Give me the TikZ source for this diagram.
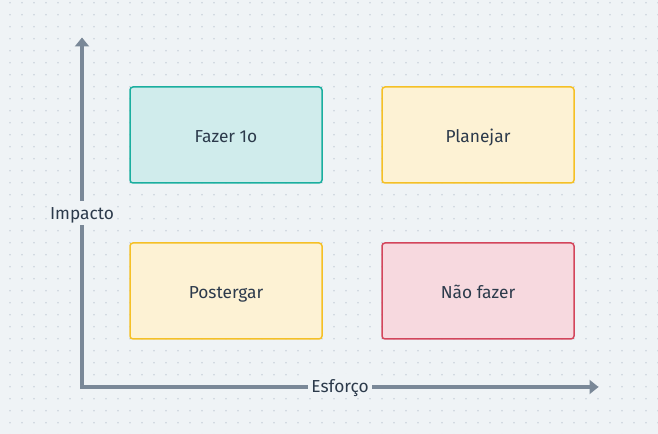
\documentclass[tikz,border=0pt]{standalone}
\usepackage{fontspec}
\setmainfont{Fira Sans}
\usetikzlibrary{arrows.meta}
\definecolor{bgcol}{HTML}{EFF3F6}
\definecolor{dotcol}{HTML}{CAD2DB}
\definecolor{axiscol}{HTML}{7A8898}
\definecolor{txtcol}{HTML}{2C3A4B}
\definecolor{tealline}{HTML}{1AAE9F}
\definecolor{tealfill}{HTML}{D0ECEC}
\definecolor{yelline}{HTML}{F5C026}
\definecolor{yelfill}{HTML}{FDF2D4}
\definecolor{redline}{HTML}{D3455B}
\definecolor{redfill}{HTML}{F7D9DF}
\tikzset{
  quad/.style={draw, rectangle, rounded corners=2.25pt, line width=1.125pt,
    minimum width=144pt, minimum height=72pt, text=txtcol,
    text height=11pt, text depth=0pt, font=\fontsize{13}{15}\selectfont},
  axis/.style={draw=axiscol, line width=3pt, line join=miter},
  axlabel/.style={fill=bgcol, text=txtcol, inner xsep=2.5pt, inner ysep=1.7pt,
    text height=12pt, text depth=2.6pt, font=\fontsize{13}{15}\selectfont}
}
\begin{document}
\begin{tikzpicture}[x=0.75pt, y=-0.75pt]
  \useasboundingbox (0,0) rectangle (658,434);
  \fill [bgcol] (0,0) rectangle (658,434);
  \foreach \i in {0,...,54} {
    \foreach \j in {0,...,36} {
      \fill [dotcol] (10+12*\i, 2.7+12*\j) circle (0.9);
    }
  }
  % axes
  \coordinate (top) at (82,37.5);
  \coordinate (origin) at (82,387);
  \coordinate (right) at (598.5,387);
  \draw [axis, {Triangle[length=6.75pt,width=10.5pt]}-{Triangle[length=6.75pt,width=10.5pt]}]
    (top) -- (origin) -- (right);
  \node [axlabel] (impacto) at (82,213) {Impacto};
  \node [axlabel] (esforco) at (340,386) {Esforço};
  % quadrants
  \node [quad, draw=tealline, fill=tealfill] (fazer) at (226,135) {Fazer 1o};
  \node [quad, draw=yelline, fill=yelfill] (planejar) at (478,135) {Planejar};
  \node [quad, draw=yelline, fill=yelfill] (postergar) at (226,291) {Postergar};
  \node [quad, draw=redline, fill=redfill] (naofazer) at (478,291) {Não fazer};
\end{tikzpicture}
\end{document}
